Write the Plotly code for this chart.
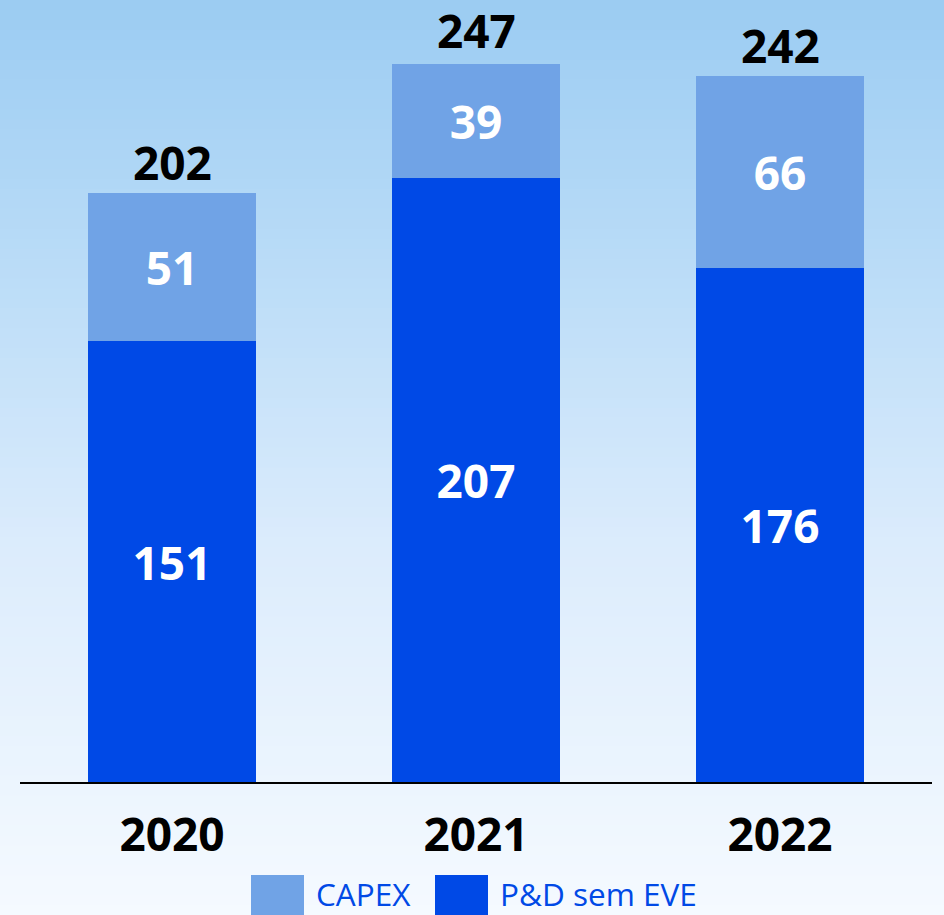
import plotly.graph_objects as go

years = ["2020", "2021", "2022"]
pd_sem_eve = [151, 207, 176]
capex = [51, 39, 66]
totals = [202, 247, 242]
series_names = ["CAPEX", "P&D sem EVE"]

DARK = "#0049E6"
LIGHT = "#70A3E6"
FONT = "Open Sans"

W, H = 944, 915
ML, MR, MT, MB = 20, 12, 0, 133
PW = W - ML - MR
PH = H - MT - MB

def px_x(px):
    return (px - ML) / PW

def px_y(py):
    return (MT + PH - py) / PH

fig = go.Figure()
fig.add_trace(go.Bar(
    x=years, y=pd_sem_eve, name=series_names[1], marker_color=DARK,
    text=[str(v) for v in pd_sem_eve], textposition="inside", insidetextanchor="middle",
    textfont=dict(family=FONT, size=46, color="white", weight="bold"),
    width=0.555, marker_line_width=0, hoverinfo="skip",
))
fig.add_trace(go.Bar(
    x=years, y=capex, name=series_names[0], marker_color=LIGHT,
    text=[str(v) for v in capex], textposition="inside", insidetextanchor="middle",
    textfont=dict(family=FONT, size=46, color="white", weight="bold"),
    width=0.555, marker_line_width=0, hoverinfo="skip",
))

# totals above bars
for i, t in enumerate(totals):
    fig.add_annotation(x=i, y=t, xref="x", yref="y", text=str(t), showarrow=False,
                       yanchor="bottom", yshift=5, height=50, borderpad=0,
                       font=dict(family=FONT, size=46, color="black", weight="bold"))

# background gradient
stops = [(0, (155, 204, 242)), (300, (190, 222, 248)), (550, (220, 236, 252)), (915, (245, 250, 255))]
def col_at(py):
    for (a, ca), (b, cb) in zip(stops[:-1], stops[1:]):
        if a <= py <= b:
            f = (py - a) / (b - a)
            return tuple(round(ca[k] + (cb[k] - ca[k]) * f) for k in range(3))
    return stops[-1][1]

shapes = []
N = 92
step = H / N
for i in range(N):
    y0 = i * step
    y1 = (i + 1) * step + 1
    c = col_at(y0 + step / 2)
    shapes.append(dict(type="rect", xref="paper", yref="paper", layer="below",
                       x0=px_x(0), x1=px_x(W), y0=px_y(y1), y1=px_y(y0),
                       fillcolor="rgb(%d,%d,%d)" % c, line=dict(width=0)))

# legend
leg = [(251, 304, LIGHT, 315, series_names[0]), (435, 488, DARK, 499, series_names[1])]
for sx0, sx1, c, tx, name in leg:
    shapes.append(dict(type="rect", xref="paper", yref="paper",
                       x0=px_x(sx0), x1=px_x(sx1), y0=px_y(916), y1=px_y(875),
                       fillcolor=c, line=dict(width=0)))
    fig.add_annotation(x=px_x(tx), y=px_y(893), xref="paper", yref="paper", text=name,
                       showarrow=False, xanchor="left", yanchor="middle",
                       height=32, borderpad=0,
                       font=dict(family=FONT, size=31.5, color=DARK))

fig.update_layout(
    width=W, height=H, margin=dict(l=ML, r=MR, t=MT, b=MB),
    barmode="stack", showlegend=False, hovermode=False,
    paper_bgcolor="rgba(0,0,0,0)", plot_bgcolor="rgba(0,0,0,0)",
    shapes=shapes,
)
fig.update_xaxes(type="category", showline=True, linecolor="black", linewidth=1.5, ticks="",
                 showgrid=False,
                 tickfont=dict(family=FONT, size=46, color="black", weight="bold"),
                 ticklabelstandoff=12, range=[-0.5, 2.5])
fig.update_yaxes(visible=False, range=[0, 268], showgrid=False, zeroline=False)

fig.write_html("out.html", config={"displayModeBar": False},
               post_script="document.body.style.margin='0';document.body.style.overflow='hidden';")
